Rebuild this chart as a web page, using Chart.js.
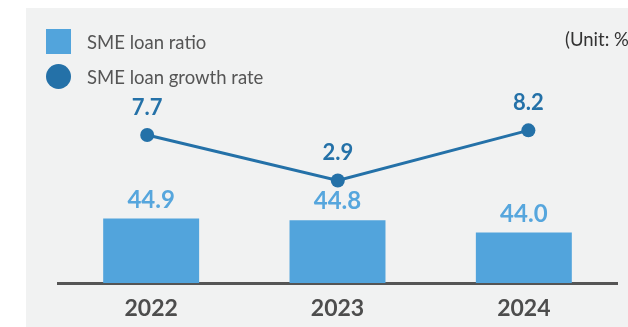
<!DOCTYPE html>
<html>
<head>
<meta charset="utf-8">
<script src="https://cdn.jsdelivr.net/npm/chart.js@4.4.1/dist/chart.umd.min.js"></script>
<style>
  html, body { margin: 0; padding: 0; background: #fff; }
  body { width: 628px; height: 327px; position: relative; overflow: hidden; font-family: Lato, 'Open Sans', sans-serif; }
  #panel { position: absolute; left: 26px; top: 8px; right: 0; bottom: 0; background: #f1f2f2; }
  #wrap { position: absolute; left: 0; top: 0; width: 628px; height: 340px; }
  #legend { position: absolute; left: 46px; top: 29px; list-style: none; margin: 0; padding: 0; }
  #legend li { display: flex; align-items: center; height: 25px; margin-bottom: 10px; color: #555; font-size: 18.5px; }
  #legend .marker { width: 25px; height: 25px; margin-right: 16px; flex: none; }
  #unit { position: absolute; left: 565px; top: 28px; font-size: 18.5px; color: #333; white-space: nowrap; }
</style>
</head>
<body>
<div id="panel"></div>
<div id="wrap"><canvas id="grafico"></canvas></div>
<ul id="legend"></ul>
<div id="unit">(Unit: %)</div>
<script>
const years = ['2022', '2023', '2024'];
const loanRatio = [44.9, 44.8, 44.0];
const growthRate = [7.7, 2.9, 8.2];

const COLOR_BAR = '#52a4dc';
const COLOR_LINE = '#2471a8';

// Etiquetas de valor sobre barras y puntos
const valueLabels = {
  id: 'valueLabels',
  afterDatasetsDraw(chart) {
    const ctx = chart.ctx;
    chart.data.datasets.forEach((ds, i) => {
      const meta = chart.getDatasetMeta(i);
      const cfg = ds.valueLabel;
      ctx.save();
      ctx.font = `bold ${cfg.size}px Lato, 'Open Sans', sans-serif`;
      ctx.fillStyle = cfg.color;
      ctx.textAlign = 'center';
      ctx.textBaseline = 'alphabetic';
      meta.data.forEach((el, j) => {
        const v = meta.controller.getParsed(j).y;
        ctx.fillText(v.toFixed(1), el.x, el.y - cfg.offset);
      });
      ctx.restore();
    });
  }
};

// Leyenda en HTML, en columna
const htmlLegend = {
  id: 'htmlLegend',
  afterUpdate(chart) {
    const ul = document.getElementById('legend');
    ul.innerHTML = '';
    chart.data.datasets.forEach((ds) => {
      const li = document.createElement('li');
      const box = document.createElement('span');
      box.className = 'marker';
      box.style.background = ds.backgroundColor;
      if (ds.type === 'line') box.style.borderRadius = '50%';
      li.appendChild(box);
      li.appendChild(document.createTextNode(ds.label));
      ul.appendChild(li);
    });
  }
};

const canvas = document.getElementById('grafico');
new Chart(canvas, {
  type: 'bar',
  data: {
    labels: years,
    datasets: [
      {
        type: 'bar',
        label: 'SME loan ratio',
        data: loanRatio,
        backgroundColor: COLOR_BAR,
        grouped: false,
        categoryPercentage: 1,
        barPercentage: 0.515,
        yAxisID: 'y',
        order: 2,
        valueLabel: { color: '#56a6dd', size: 24, offset: 11 }
      },
      {
        type: 'line',
        label: 'SME loan growth rate',
        data: growthRate.map((v, i) => ({ x: i, y: v })),
        borderColor: COLOR_LINE,
        backgroundColor: COLOR_LINE,
        borderWidth: 3,
        pointRadius: 7,
        pointBorderWidth: 0,
        pointBackgroundColor: COLOR_LINE,
        xAxisID: 'x2',
        yAxisID: 'y2',
        order: 1,
        valueLabel: { color: COLOR_LINE, size: 22, offset: 20 }
      }
    ]
  },
  options: {
    responsive: true,
    maintainAspectRatio: false,
    animation: false,
    layout: { padding: { left: 58, right: 11, top: 60, bottom: 6 } },
    plugins: {
      legend: { display: false },
      tooltip: { enabled: false }
    },
    scales: {
      x: {
        grid: { display: false, drawTicks: false },
        border: { display: true, color: '#555', width: 3 },
        ticks: {
          color: '#4d4d4d',
          padding: 14,
          font: { family: "Lato, 'Open Sans', sans-serif", size: 23, weight: 'bold', lineHeight: 1 }
        }
      },
      x2: { type: 'linear', display: false, offset: false, min: -0.468, max: 2.465 },
      y: { display: false, min: 40.75, max: 55.12 },
      y2: { display: false, min: -7.95, max: 15.64 }
    }
  },
  plugins: [valueLabels, htmlLegend]
});
</script>
</body>
</html>
